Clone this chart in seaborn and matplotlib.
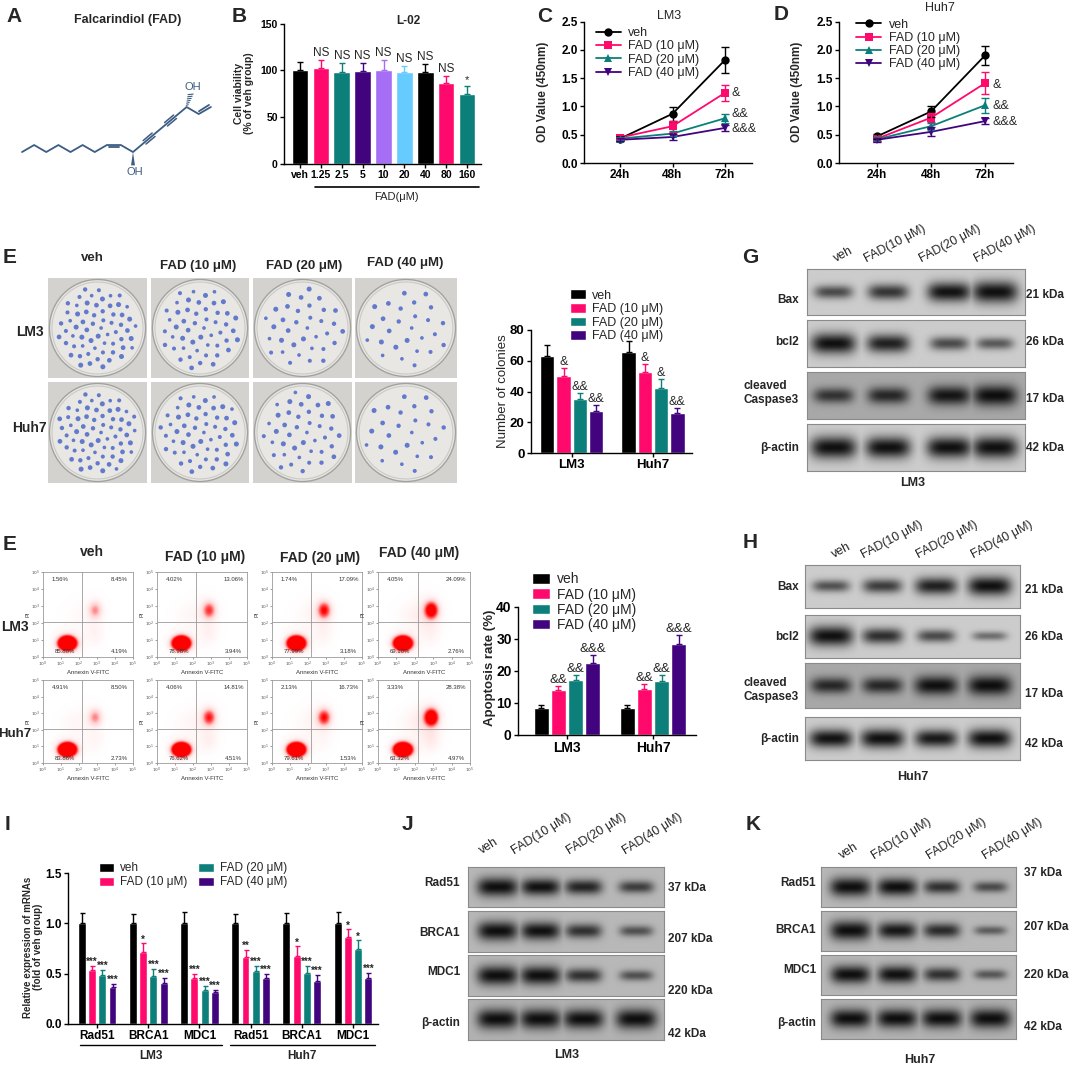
import numpy as np
import pandas as pd
import matplotlib
matplotlib.use("Agg")
import matplotlib.pyplot as plt
import seaborn as sns
from matplotlib.patches import Circle
from matplotlib.colors import LinearSegmentedColormap

W, H = 1072, 1066

# ---------------- values ----------------
groups = ["veh", "FAD (10 μM)", "FAD (20 μM)", "FAD (40 μM)"]
group_colors = ["#000000", "#ff0a6c", "#0d7f7a", "#42047e"]
lane_names = ["veh", "FAD(10 μM)", "FAD(20 μM)", "FAD(40 μM)"]
cells = ["LM3", "Huh7"]

# B  L-02 viability
doses = ["veh", "1.25", "2.5", "5", "10", "20", "40", "80", "160"]
viability = [100, 102, 98, 99, 100, 98, 98, 86, 75]
viability_sd = [9, 9, 10, 9, 11, 7, 9, 8, 8]
viability_sig = ["", "NS", "NS", "NS", "NS", "NS", "NS", "NS", "*"]
dose_colors = ["#000000", "#ff0a6c", "#0d7f7a", "#42047e", "#a56ef5",
               "#66ccff", "#000000", "#ff0a6c", "#0d7f7a"]

# C / D  OD450
hours = ["24h", "48h", "72h"]
od_lm3 = [[0.43, 0.87, 1.82], [0.45, 0.65, 1.24], [0.43, 0.52, 0.79], [0.41, 0.46, 0.62]]
od_lm3_sd = [[0.05, 0.12, 0.23], [0.04, 0.10, 0.14], [0.03, 0.05, 0.08], [0.03, 0.06, 0.06]]
od_huh7 = [[0.47, 0.91, 1.90], [0.43, 0.80, 1.41], [0.42, 0.65, 1.02], [0.41, 0.55, 0.74]]
od_huh7_sd = [[0.05, 0.10, 0.16], [0.04, 0.08, 0.19], [0.04, 0.06, 0.13], [0.04, 0.08, 0.05]]
od_sig = ["", "&", "&&", "&&&"]

# E  colonies
colonies = [[63, 50, 35, 27], [66, 53, 42, 26]]
colonies_sd = [[7, 5, 4, 4], [7, 5, 6, 3]]
colonies_sig = [["", "&", "&&", "&&"], ["", "&", "&", "&&"]]

# E  flow cytometry quadrants [UL, UR, LL, LR] (%)
flow_lm3 = [[1.56, 8.45, 85.80, 4.19], [4.02, 13.06, 78.98, 3.94],
            [1.74, 17.09, 77.99, 3.18], [4.05, 24.09, 69.10, 2.76]]
flow_huh7 = [[4.91, 8.50, 83.86, 2.73], [4.06, 14.81, 76.62, 4.51],
             [2.13, 16.73, 79.61, 1.53], [3.33, 28.38, 63.32, 4.97]]
apoptosis = [[8.5, 14.0, 17.2, 22.5], [8.5, 14.5, 17.0, 28.5]]
apoptosis_sd = [[1.0, 1.2, 1.6, 2.6], [1.0, 1.4, 1.8, 2.8]]
apoptosis_sig = [["", "&&", "&&", "&&&"], ["", "&&", "&&", "&&&"]]

# I  mRNA
genes = ["Rad51", "BRCA1", "MDC1"]
mrna = [[[1.0, 0.54, 0.49, 0.37], [1.0, 0.72, 0.48, 0.41], [1.0, 0.46, 0.34, 0.32]],
        [[1.0, 0.67, 0.53, 0.46], [1.0, 0.68, 0.51, 0.43], [1.0, 0.86, 0.75, 0.46]]]
mrna_sd = [[[0.10, 0.04, 0.05, 0.03], [0.09, 0.08, 0.07, 0.05], [0.11, 0.04, 0.04, 0.02]],
           [[0.09, 0.07, 0.05, 0.04], [0.10, 0.09, 0.07, 0.06], [0.11, 0.08, 0.08, 0.05]]]
mrna_sig = [[["", "***", "***", "***"], ["", "*", "***", "***"], ["", "***", "***", "***"]],
            [["", "**", "***", "***"], ["", "*", "***", "***"], ["", "*", "*", "***"]]]

# western blots: band strength per row / lane
apo_rows = ["Bax", "bcl2", "cleaved\nCaspase3", "β-actin"]
apo_kda = ["21 kDa", "26 kDa", "17 kDa", "42 kDa"]
blot_g = [[0.45, 0.60, 0.85, 1.00], [0.90, 0.75, 0.45, 0.35],
          [0.55, 0.65, 0.80, 0.90], [1.00, 0.95, 0.95, 1.00]]
blot_h = [[0.40, 0.55, 0.75, 0.90], [0.95, 0.65, 0.45, 0.20],
          [0.65, 0.65, 0.85, 0.90], [0.85, 0.90, 0.80, 0.90]]
dna_rows = ["Rad51", "BRCA1", "MDC1", "β-actin"]
dna_kda = ["37 kDa", "207 kDa", "220 kDa", "42 kDa"]
blot_j = [[1.00, 0.85, 0.70, 0.50], [0.95, 0.85, 0.60, 0.35],
          [1.00, 0.95, 0.60, 0.35], [1.00, 1.00, 0.95, 1.00]]
blot_k = [[1.00, 0.90, 0.60, 0.40], [1.00, 0.80, 0.65, 0.25],
          [0.90, 0.85, 0.60, 0.30], [0.95, 0.95, 0.95, 1.00]]

# ---------------- setup ----------------
sns.set_style("ticks", {"axes.edgecolor": "black", "xtick.color": "black",
                        "ytick.color": "black"})
plt.rcParams["font.family"] = ["Liberation Sans", "DejaVu Sans"]
NARROW = ["Liberation Sans Narrow", "Liberation Sans", "DejaVu Sans"]
ARIAL = ["Liberation Sans", "DejaVu Sans"]

fig = plt.figure(figsize=(W / 100, H / 100), dpi=100)


def px_ax(x0, y0, x1, y1):
    return fig.add_axes([x0 / W, 1 - y1 / H, (x1 - x0) / W, (y1 - y0) / H])


def ftext(x, y, s, size=9, weight="normal", ha="center", va="center", **kw):
    return fig.text(x / W, 1 - y / H, s, fontsize=size, fontweight=weight,
                    ha=ha, va=va, **kw)


def prism(ax, size=8, family=None):
    sns.despine(ax=ax)
    for s in ("left", "bottom"):
        ax.spines[s].set_linewidth(1.0)
    ax.tick_params(width=1.0, length=3, labelsize=size, pad=1.5)
    for lab in ax.get_xticklabels() + ax.get_yticklabels():
        lab.set_fontweight("bold")
        if family:
            lab.set_family(family)
    ax.set_xlabel("")
    ax.set_ylabel("")


def up_err(ax, x, y, sd, color, cap=2):
    ax.errorbar([x], [y], yerr=[[0], [sd]], fmt="none", ecolor=color,
                elinewidth=1, capsize=cap, capthick=1)


for letter, x, y in [("A", 14, 16), ("B", 239, 16), ("C", 545, 16), ("D", 781, 14),
                     ("E", 10, 258), ("G", 750, 258), ("E", 10, 545), ("H", 750, 543),
                     ("I", 8, 825), ("J", 407, 825), ("K", 753, 825)]:
    ftext(x, y, letter, size=15, weight="bold")

# ---------------- A: structure ----------------
mol = "#3d5c82"
ax = px_ax(8, 60, 232, 190)
ax.set_xlim(-1, 15)
ax.set_ylim(-2.71, 6.57)
ax.axis("off")
chain = [(0.866 * i, 0.5 * (i % 2)) for i in range(7)]
c10, c9, c8 = (6.062, 0.5), (7.062, 0.5), (7.928, 0.0)
d = np.array([np.cos(np.radians(40)), np.sin(np.radians(40))])
c3 = np.array(c8) + 5 * d
c2 = c3 + np.array([0.866, -0.5])
c1 = c2 + np.array([0.866, 0.5])
pts = np.array(chain + [c10, c9, c8, tuple(c3), tuple(c2), tuple(c1)])
ax.plot(pts[:, 0], pts[:, 1], color=mol, lw=1.3, solid_joinstyle="round")
ax.plot([6.2, 6.92], [0.33, 0.33], color=mol, lw=1.3)
nrm = np.array([-d[1], d[0]]) * 0.16
for k in (1, 3):
    a = np.array(c8) + k * d + 0.08 * d
    b = np.array(c8) + (k + 1) * d - 0.08 * d
    for s in (1, -1):
        ax.plot([a[0] + s * nrm[0], b[0] + s * nrm[0]], [a[1] + s * nrm[1], b[1] + s * nrm[1]],
                color=mol, lw=1.1)
vn = np.array([-0.5, 0.866]) * 0.17
ax.plot([c2[0] + vn[0] + 0.1, c1[0] + vn[0] - 0.05], [c2[1] + vn[1] + 0.05, c1[1] + vn[1]],
        color=mol, lw=1.3)
ax.fill([c8[0], c8[0] - 0.14, c8[0] + 0.14], [c8[1], -0.95, -0.95], color=mol, lw=0)
ax.text(c8[0] + 0.1, -1.45, "OH", color=mol, fontsize=8, ha="center", va="center")
tip = c3 + np.array([0.3, 0.95])
for f in np.linspace(0.15, 0.95, 6):
    p = c3 + f * (tip - c3)
    half = 0.05 + 0.14 * f
    ax.plot([p[0] - half, p[0] + half], [p[1] - 0.02, p[1] + 0.02], color=mol, lw=0.8)
ax.text(tip[0] + 0.15, tip[1] + 0.5, "OH", color=mol, fontsize=8, ha="center", va="center")
ftext(128, 20, "Falcarindiol (FAD)", size=9, weight="bold")

# ---------------- B: L-02 ----------------
ax = px_ax(284, 23.5, 481, 164)
sns.barplot(x=doses, y=viability, hue=doses, order=doses, hue_order=doses,
            palette=dose_colors, width=0.8, saturation=1, legend=False, ax=ax)
for i, bar in enumerate(list(ax.patches)):
    x = bar.get_x() + bar.get_width() / 2
    up_err(ax, x, viability[i], viability_sd[i], dose_colors[i], cap=2.5)
    if viability_sig[i]:
        ax.text(x, viability[i] + viability_sd[i] + 1, viability_sig[i], ha="center",
                va="bottom", fontsize=8.5 if viability_sig[i] == "NS" else 8)
ax.set_ylim(0, 150)
ax.set_yticks([0, 50, 100, 150])
ax.set_xlim(-0.77, 8.67)
prism(ax, size=7.5)
ax.plot([0.72, 8.56], [-0.165, -0.165], color="black", lw=1.2,
        transform=ax.get_xaxis_transform(), clip_on=False)
ax.text(4.6, -0.235, "FAD(μM)", transform=ax.get_xaxis_transform(), ha="center",
        va="center", fontsize=8)
ftext(408, 21, "L-02", size=8.5, weight="bold")
ftext(244, 93, "Cell viability\n(% of veh group)", size=7.5, weight="bold", rotation=90,
      linespacing=1.1)


# ---------------- C / D: OD ----------------
def od_panel(x0, x1, ticks, means, sds, leg_anchor, sig_y):
    ax = px_ax(x0, 21.5, x1, 163)
    rows = [(g, t, means[i][t]) for i, g in enumerate(groups) for t in range(3)]
    df = pd.DataFrame(rows, columns=["group", "t", "od"])
    sns.lineplot(data=df, x="t", y="od", hue="group", style="group", hue_order=groups,
                 style_order=groups, palette=group_colors, markers=["o", "s", "^", "v"],
                 dashes=False, markersize=6, markeredgewidth=0, linewidth=1.3, ax=ax)
    for i, c in enumerate(group_colors):
        ax.errorbar(range(3), means[i], yerr=sds[i], fmt="none", ecolor=c, elinewidth=1,
                    capsize=3, capthick=1)
        if od_sig[i]:
            ax.text(2.13, sig_y[i], od_sig[i], fontsize=9, ha="left", va="center")
    sp = (ticks[2] - ticks[0]) / 2
    ax.set_xlim(-(ticks[0] - x0) / sp, 2 + (x1 - ticks[2]) / sp)
    ax.set_xticks(range(3))
    ax.set_xticklabels(hours)
    ax.set_ylim(0, 2.5)
    ax.set_yticks(np.arange(0, 2.51, 0.5))
    ax.set_yticklabels([f"{v:.1f}" for v in np.arange(0, 2.51, 0.5)])
    h, l = ax.get_legend_handles_labels()
    ax.legend(h, l, loc="upper left", bbox_to_anchor=leg_anchor, frameon=False, fontsize=9,
              handlelength=2.0, handletextpad=0.6, labelspacing=0.1, borderpad=0,
              borderaxespad=0)
    prism(ax, size=8.5)
    return ax


od_panel(584, 752, [620, 672, 725], od_lm3, od_lm3_sd, (0.07, 0.96), [0, 1.23, 0.87, 0.6])
ftext(669, 16, "LM3", size=9)
ftext(543, 92, "OD Value (450nm)", size=8.5, weight="bold", rotation=90)
od_panel(839, 1013, [877, 930, 985], od_huh7, od_huh7_sd, (0.1, 1.02), [0, 1.38, 1.0, 0.73])
ftext(940, 8, "Huh7", size=9)
ftext(797, 92, "OD Value (450nm)", size=8.5, weight="bold", rotation=90)


# ---------------- E: colony photos ----------------
def dish(ax, n):
    ax.set_facecolor("#d3d2cf")
    ax.add_patch(Circle((0, 0), 0.485, fc="#e8e7e4", ec="#a2a29f", lw=1.0))
    ax.add_patch(Circle((0, 0), 0.46, fc="none", ec="#c9c9c6", lw=0.8))
    k = np.arange(n)
    r = 0.41 * np.sqrt((k + 0.5) / n)
    th = k * 2.39996
    size = 7 + 6 * ((k * 7) % 5) / 4
    ax.scatter(r * np.cos(th), r * np.sin(th), s=size, c="#4b66c8", alpha=0.85,
               edgecolors="none")
    ax.set_xlim(-0.5, 0.5)
    ax.set_ylim(-0.5, 0.5)
    ax.set_xticks([])
    ax.set_yticks([])
    for s in ax.spines.values():
        s.set_visible(False)


photo_x = [(48, 147), (151, 249), (253, 352), (355, 457)]
photo_y = [(278, 378), (382, 483)]
for r in range(2):
    for c in range(4):
        dish(px_ax(photo_x[c][0], photo_y[r][0], photo_x[c][1], photo_y[r][1]), colonies[r][c])
for (x, y), t in zip([(92, 258), (198, 266), (304, 266), (405, 263)], groups):
    ftext(x, y, t, size=9.5, weight="bold", family=NARROW)
ftext(30, 332, "LM3", size=10, weight="bold", family=NARROW)
ftext(29, 428, "Huh7", size=10, weight="bold", family=NARROW)


def group_bars(ax, means, sds, sigs, sig_size, sig_family):
    df = pd.DataFrame([(cells[r], groups[g], means[r][g]) for r in range(2) for g in range(4)],
                      columns=["cell", "group", "v"])
    sns.barplot(data=df, x="cell", y="v", hue="group", order=cells, hue_order=groups,
                palette=group_colors, saturation=1, width=0.8, gap=0.12, errorbar=None, ax=ax)
    for g, cont in enumerate(list(ax.containers)):
        for r, bar in enumerate(cont):
            x = bar.get_x() + bar.get_width() / 2
            up_err(ax, x, means[r][g], sds[r][g], group_colors[g], cap=2.5)
            if sigs[r][g]:
                ax.text(x, means[r][g] + sds[r][g], sigs[r][g], ha="center", va="bottom",
                        fontsize=sig_size, family=sig_family)


ax = px_ax(531, 330, 692, 453)
group_bars(ax, colonies, colonies_sd, colonies_sig, 9, NARROW)
ax.set_xlim(-0.5, 1.48)
ax.set_ylim(0, 80)
ax.set_yticks(range(0, 81, 20))
h, l = ax.get_legend_handles_labels()
ax.legend(h[:4], l[:4], loc="upper left", bbox_to_anchor=(0.24, 1.33), frameon=False,
          prop={"family": NARROW, "size": 9}, handlelength=1.3, handleheight=0.8,
          labelspacing=0.12, borderpad=0, borderaxespad=0, handletextpad=0.5)
prism(ax, size=9.5, family=NARROW)
ftext(503, 391, "Number of colonies", size=9.5, rotation=90, family=NARROW)

# ---------------- E: flow cytometry ----------------
red_cmap = LinearSegmentedColormap.from_list("fcm", ["#ffffff", "#ffd0d0", "#ff5a5a", "#ff0000"])
grid = np.linspace(0, 5, 240)
GX, GY = np.meshgrid(grid, grid)


def blob(cx, cy, sx, sy):
    return np.exp(-0.5 * ((GX - cx) / sx) ** 2 - 0.5 * ((GY - cy) / sy) ** 2) / (sx * sy)


def flow_plot(ax, pct):
    ul, ur, ll, lr = pct
    dens = (ll * blob(1.35, 0.8, 0.26, 0.22) + ll * 0.05 * blob(1.5, 1.0, 0.55, 0.5)
            + ur * 0.9 * blob(2.9, 2.75, 0.22, 0.3) + ur * 0.3 * blob(2.6, 2.5, 0.5, 0.65)
            + lr * 0.45 * blob(2.9, 1.4, 0.3, 0.45) + ul * 0.3 * blob(1.7, 2.5, 0.5, 0.45))
    img = np.clip(dens / dens.max() * 6, 0, 1) ** 0.85
    ax.imshow(img, cmap=red_cmap, origin="lower", extent=(0, 5, 0, 5), aspect="auto",
              vmin=0, vmax=1)
    ax.axvline(2.17, color="#9a9a9a", lw=0.6)
    ax.axhline(2.05, color="#9a9a9a", lw=0.6)
    for (x, y), v in zip([(0.95, 4.55), (4.25, 4.55), (1.2, 0.3), (4.25, 0.3)], pct):
        ax.text(x, y, f"{v:.2f}%", fontsize=4.3, ha="center", va="center", color="#333333")
    ax.set_xlim(0, 5)
    ax.set_ylim(0, 5)
    ax.set_xticks(range(6))
    ax.set_yticks(range(6))
    ax.set_xticklabels([f"$10^{i}$" for i in range(6)])
    ax.set_yticklabels([f"$10^{i}$" for i in range(6)])
    ax.tick_params(labelsize=3.2, length=1.2, width=0.4, pad=0.8, colors="#555555")
    for s in ax.spines.values():
        s.set_color("#9a9a9a")
        s.set_linewidth(0.6)
    ax.set_xlabel("Annexin V-FITC", fontsize=4.3, labelpad=0.5, color="#333333")
    ax.set_ylabel("PI", fontsize=4, labelpad=0.5, color="#333333")


flow_x = [(43, 133), (157, 247), (272, 362), (378, 470)]
flow_y = [(572, 657), (680, 763)]
for r, data in enumerate([flow_lm3, flow_huh7]):
    for c in range(4):
        flow_plot(px_ax(flow_x[c][0], flow_y[r][0], flow_x[c][1], flow_y[r][1]), data[c])
for (x, y), t in zip([(92, 552), (205, 557), (320, 558), (419, 553)], groups):
    ftext(x, y, t, size=10, weight="bold", family=NARROW)
ftext(15, 627, "LM3", size=10, weight="bold")
ftext(15, 734, "Huh7", size=9.5, weight="bold")

ax = px_ax(518, 607, 696, 735)
group_bars(ax, apoptosis, apoptosis_sd, apoptosis_sig, 9.5, NARROW)
ax.set_xlim(-0.57, 1.5)
ax.set_ylim(0, 40)
ax.set_yticks(range(0, 41, 10))
h, l = ax.get_legend_handles_labels()
ax.legend(h[:4], l[:4], loc="upper left", bbox_to_anchor=(0.08, 1.27), frameon=False,
          prop={"family": NARROW, "size": 10}, handlelength=1.3, handleheight=0.8,
          labelspacing=0.08, borderpad=0, borderaxespad=0, handletextpad=0.5)
prism(ax, size=10)
ftext(490, 668, "Apoptosis rate (%)", size=9.5, weight="bold", rotation=90)


# ---------------- western blots ----------------
def band_image(vals, lanes, bg):
    xs = np.linspace(0, 1, 260)
    ys = np.linspace(0, 1, 60)
    X, Y = np.meshgrid(xs, ys)
    dark = np.zeros_like(X)
    for c, v in zip(lanes, vals):
        hw = 0.075 + 0.03 * v
        hh = 0.07 + 0.17 * v
        prof = np.exp(-np.abs((X - c) / hw) ** 4) * np.exp(-((Y - 0.5) / hh) ** 2)
        dark = np.maximum(dark, min(1.0, 0.35 + 0.75 * v) * prof)
    return bg * (1 - 0.92 * dark)


def blot(x0, x1, rows_y, lanes, vals, bgs, names, name_x, name_y, kda, kda_x, kda_y,
         lab_x, lab_y, rot, lab_family, name_family, cell, cell_xy):
    for r, (ya, yb) in enumerate(rows_y):
        ax = px_ax(x0, ya, x1, yb)
        ax.imshow(band_image(vals[r], lanes, bgs[r]), cmap="gray", vmin=0, vmax=1,
                  aspect="auto", extent=(0, 1, 0, 1))
        ax.set_xticks([])
        ax.set_yticks([])
        for s in ax.spines.values():
            s.set_color("#8a8a8a")
            s.set_linewidth(0.8)
        ftext(name_x, name_y[r], names[r], size=8.5, weight="bold", ha="right",
              multialignment="left", family=name_family, linespacing=1.15)
        ftext(kda_x, kda_y[r], kda[r], size=8.5, weight="bold", ha="left", family=name_family)
    for x, t in zip(lab_x, lane_names):
        ftext(x, lab_y, t, size=9, ha="left", va="bottom", rotation=rot,
              rotation_mode="anchor", family=lab_family)
    ftext(cell_xy[0], cell_xy[1], cell, size=9, weight="bold", family=name_family)


blot(807, 1025, [(269, 315), (320, 367), (372, 419), (424, 471)], [0.12, 0.37, 0.65, 0.86],
     blot_g, [0.80, 0.80, 0.66, 0.80], apo_rows, 799, [300, 342, 393, 448], apo_kda, 1026,
     [295, 342, 399, 448], [837, 868, 923, 978], 265, 28, ARIAL, ARIAL, "LM3", (913, 483))
blot(805, 1020, [(565, 608), (615, 658), (663, 708), (717, 760)], [0.12, 0.36, 0.61, 0.86],
     blot_h, [0.80, 0.80, 0.66, 0.80], apo_rows, 799, [587, 637, 690, 739], apo_kda, 1025,
     [590, 637, 694, 744], [835, 865, 920, 975], 561, 28, ARIAL, ARIAL, "Huh7", (913, 777))
blot(468, 664, [(867, 907), (911, 952), (955, 996), (999, 1040)], [0.15, 0.37, 0.59, 0.86],
     blot_j, [0.72, 0.72, 0.72, 0.70], dna_rows, 460, [883, 933, 972, 1023], dna_kda, 668,
     [888, 939, 991, 1034], [484, 516, 571, 627], 857, 32, NARROW, NARROW, "LM3", (567, 1055))
blot(821, 1016, [(867, 907), (911, 951), (955, 995), (999, 1039)], [0.15, 0.39, 0.62, 0.87],
     blot_k, [0.72, 0.72, 0.72, 0.70], dna_rows, 816, [883, 930, 970, 1023], dna_kda, 1024,
     [873, 927, 975, 1027], [844, 876, 931, 987], 862, 32, NARROW, NARROW, "Huh7", (920, 1060))

# ---------------- I: mRNA ----------------
ax = px_ax(68, 873, 378, 1024)
keys = [f"{cell}-{gene}" for cell in cells for gene in genes]
rows = [(f"{cells[r]}-{genes[k]}", groups[g], mrna[r][k][g])
        for r in range(2) for k in range(3) for g in range(4)]
df = pd.DataFrame(rows, columns=["key", "group", "v"])
sns.barplot(data=df, x="key", y="v", hue="group", order=keys, hue_order=groups,
            palette=group_colors, saturation=1, width=0.8, gap=0.22, errorbar=None, ax=ax)
for g, cont in enumerate(list(ax.containers)):
    for j, bar in enumerate(cont):
        r, k = divmod(j, 3)
        x = bar.get_x() + bar.get_width() / 2
        up_err(ax, x, mrna[r][k][g], mrna_sd[r][k][g], group_colors[g], cap=1.8)
        if mrna_sig[r][k][g]:
            ax.text(x, mrna[r][k][g] + mrna_sd[r][k][g] - 0.01, mrna_sig[r][k][g],
                    ha="center", va="bottom", fontsize=7, fontweight="bold")
ax.set_xlim(-0.57, 5.49)
ax.set_ylim(0, 1.5)
ax.set_yticks([0, 0.5, 1.0, 1.5])
ax.set_yticklabels(["0.0", "0.5", "1.0", "1.5"])
ax.set_xticks(range(6))
ax.set_xticklabels(genes * 2)
h, l = ax.get_legend_handles_labels()
ax.legend(h[:4], l[:4], loc="upper left", bbox_to_anchor=(0.1, 1.07), ncol=2, frameon=False,
          fontsize=8.5, handlelength=1.3, handleheight=0.8, labelspacing=0.15,
          columnspacing=0.9, borderpad=0, borderaxespad=0, handletextpad=0.5)
prism(ax, size=8.5)
xt = ax.get_xaxis_transform()
for (a, b), name, mid in [((-0.33, 2.44), "LM3", 1.05), ((2.6, 5.43), "Huh7", 4.0)]:
    ax.plot([a, b], [-0.14, -0.14], color="black", lw=1.0, transform=xt, clip_on=False)
    ax.text(mid, -0.21, name, transform=xt, ha="center", va="center", fontsize=8.5,
            fontweight="bold")
ftext(33, 947, "Relative expression of mRNAs\n(fold of veh group)", size=7,
      weight="bold", rotation=90, linespacing=1.1)

fig.savefig("out.png", dpi=100)
